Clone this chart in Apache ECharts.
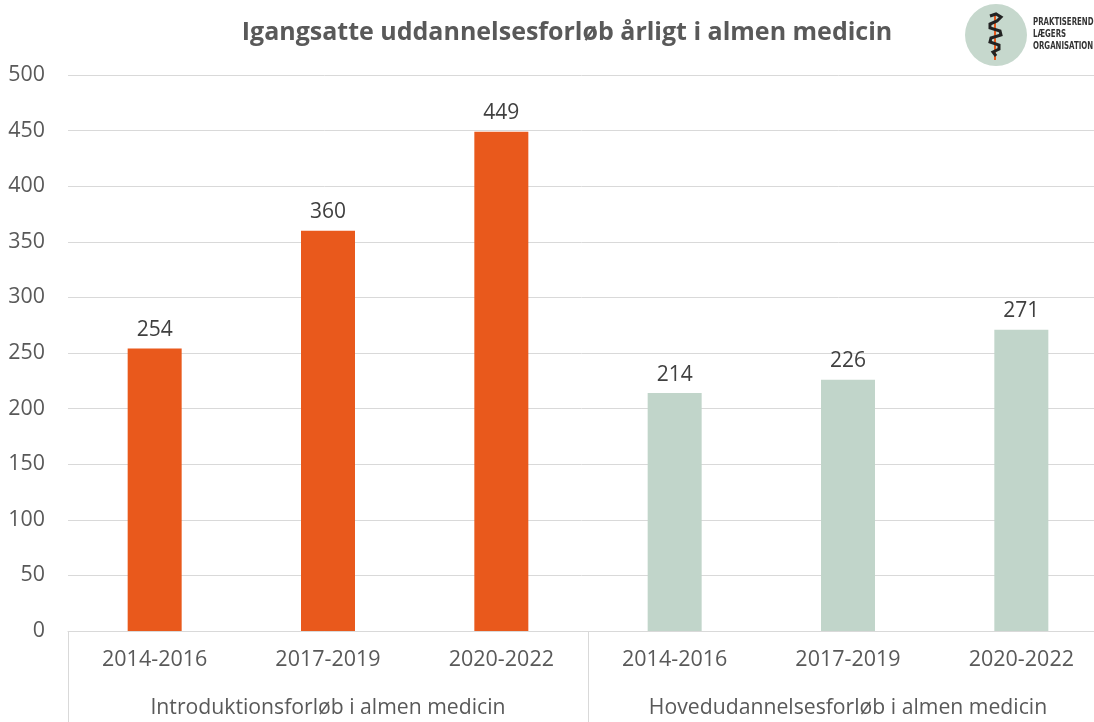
<!DOCTYPE html>
<html>
<head>
<meta charset="utf-8">
<script src="https://cdn.jsdelivr.net/npm/echarts@6/dist/echarts.min.js"></script>
<style>
  html, body { margin: 0; padding: 0; background: #fff; }
  #chart { width: 1094px; height: 722px; }
</style>
</head>
<body>
<div id="chart"></div>
<script>
// data
var periods = ["2014-2016", "2017-2019", "2020-2022"];
var groups = ["Introduktionsforløb i almen medicin", "Hovedudannelsesforløb i almen medicin"];
var introValues = [254, 360, 449];
var hovedValues = [214, 226, 271];
var yTicks = [0, 50, 100, 150, 200, 250, 300, 350, 400, 450, 500];

var orange = "#E9591C";
var green = "#C1D5CA";
var textColor = "#595959";

var categories = periods.concat(periods);
var barData = [];
introValues.forEach(function (v) {
    barData.push({ value: v, itemStyle: { color: orange } });
});
hovedValues.forEach(function (v) {
    barData.push({ value: v, itemStyle: { color: green } });
});

var chart = echarts.init(document.getElementById("chart"));

chart.setOption({
    animation: false,
    textStyle: { fontFamily: "Open Sans" },
    title: {
        text: "Igangsatte uddannelsesforløb årligt i almen medicin",
        left: 562,
        top: 15,
        textAlign: "center",
        textStyle: { fontFamily: "Open Sans", fontSize: 25, fontWeight: "bold", color: textColor }
    },
    // plot runs past the right edge like in the source picture
    grid: { left: 68, width: 1040, top: 75, height: 556, containLabel: false, outerBoundsMode: "none" },
    xAxis: [
        {
            type: "category",
            data: categories,
            axisLine: { lineStyle: { color: "#d9d9d9" } },
            axisTick: { show: false },
            axisLabel: { color: textColor, fontSize: 21.5, margin: 18, interval: 0 }
        },
        {
            type: "category",
            position: "bottom",
            data: groups,
            axisLine: { show: false },
            axisTick: { show: true, length: 91, lineStyle: { color: "#d9d9d9" } },
            axisLabel: { color: textColor, fontSize: 21.2, margin: 66, interval: 0 }
        }
    ],
    yAxis: {
        type: "value",
        min: yTicks[0],
        max: yTicks[yTicks.length - 1],
        interval: 50,
        axisLine: { show: false },
        axisTick: { show: false },
        splitLine: { lineStyle: { color: "#d9d9d9" } },
        axisLabel: { color: textColor, fontSize: 21.4, margin: 23 }
    },
    series: [
        {
            type: "bar",
            xAxisIndex: 0,
            data: barData,
            barWidth: 54,
            label: {
                show: true,
                position: "top",
                distance: 8,
                color: "#404040",
                fontSize: 21
            }
        }
    ],
    graphic: [
        { type: "circle", shape: { cx: 996, cy: 35, r: 31 }, style: { fill: "#C6D8CD" } },
        { type: "line", shape: { x1: 995, y1: 14, x2: 995, y2: 60 }, style: { stroke: orange, lineWidth: 2 } },
        {
            type: "polyline",
            shape: { points: [[990, 16], [996, 14], [1001, 17], [997, 21], [990, 24], [990, 28], [1000, 31], [1001, 35], [991, 38], [990, 42], [999, 45], [999, 49], [993, 52], [996, 56]] },
            style: { stroke: "#222", lineWidth: 3, fill: null }
        },
        {
            type: "text",
            x: 1033,
            y: 16,
            scaleX: 0.78,
            style: {
                text: "PRAKTISEREND\nLÆGERS\nORGANISATION",
                font: "bold 10px 'DejaVu Sans Condensed', sans-serif",
                fill: "#333",
                lineHeight: 12
            }
        }
    ]
});
</script>
</body>
</html>
